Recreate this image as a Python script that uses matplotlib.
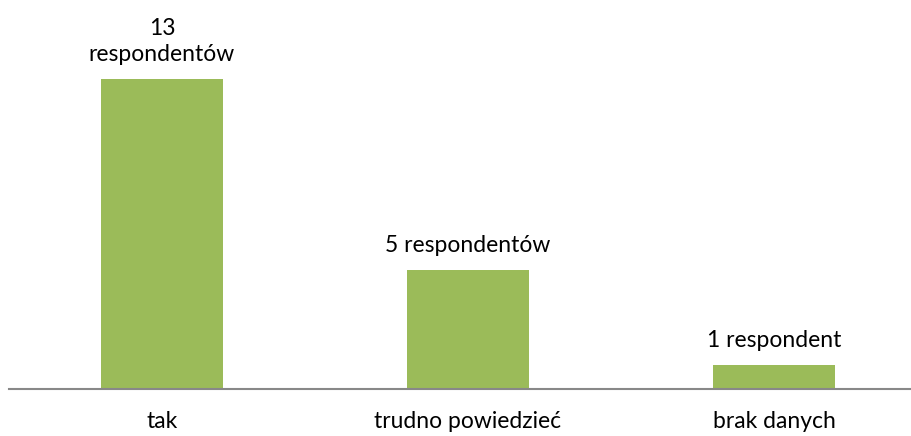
import matplotlib.pyplot as plt

categories = ["tak", "trudno powiedzieć", "brak danych"]
values = [13, 5, 1]
labels = ["13\nrespondentów", "5 respondentów", "1 respondent"]

plt.rcParams['font.family'] = ['Lato', 'DejaVu Sans']

fig = plt.figure(figsize=(9.12, 4.36), dpi=100)
ax = fig.add_axes([9 / 912, 47 / 436, 918 / 912, 334 / 436])

x = range(len(categories))
bars = ax.bar(x, values, width=0.4, color='#9BBB59')

for b, lab in zip(bars, labels):
    ax.annotate(lab, (b.get_x() + b.get_width() / 2, b.get_height()),
                xytext=(0, 10), textcoords='offset points',
                ha='center', va='bottom', fontsize=16.5, linespacing=1.3)

ax.set_xlim(-0.5, 2.5)
ax.set_ylim(0, 14)
ax.set_xticks(list(x))
ax.set_xticklabels(categories, fontsize=16.5)
ax.tick_params(axis='x', length=0, pad=16)
ax.set_yticks([])
for s in ['top', 'right', 'left']:
    ax.spines[s].set_visible(False)
ax.spines['bottom'].set_color('#888888')
ax.spines['bottom'].set_linewidth(1.5)

plt.savefig("out.png", dpi=100)
